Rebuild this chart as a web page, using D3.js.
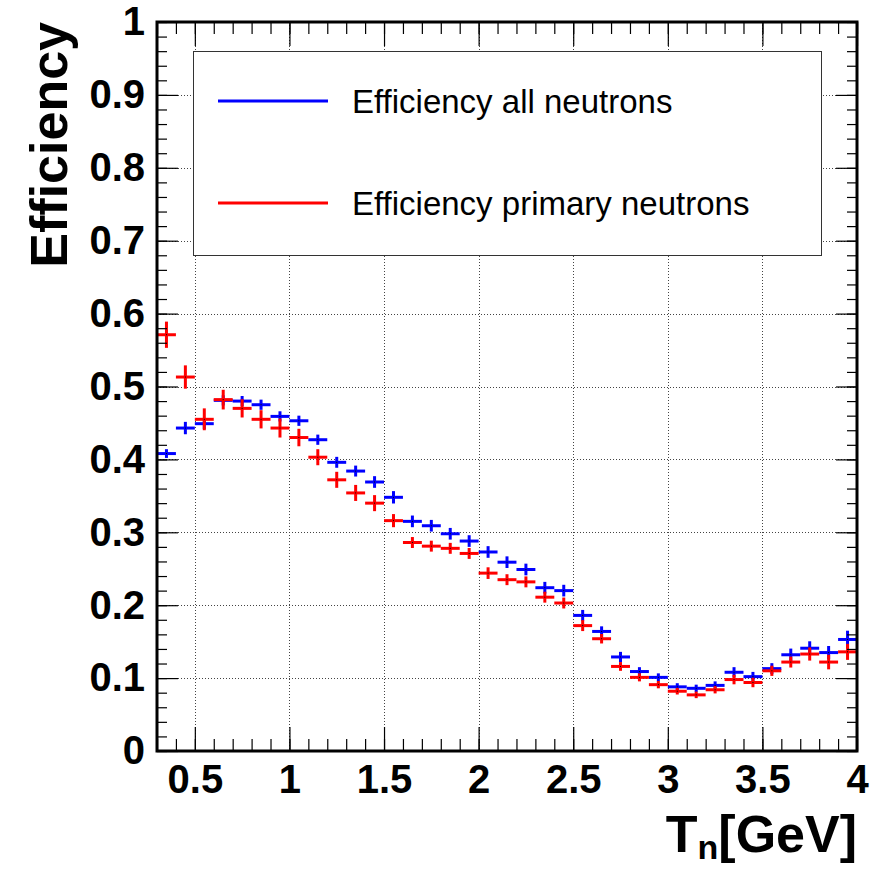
<!DOCTYPE html>
<html>
<head>
<meta charset="utf-8">
<script src="https://cdn.jsdelivr.net/npm/d3@7"></script>
<style>
  body { margin: 0; background: #fff; }
  svg { display: block; font-family: "Liberation Sans", Arial, Helvetica, sans-serif; }
</style>
</head>
<body>
<svg id="chart" width="877" height="869"></svg>
<script>
// bin centers, T_n in GeV (bins 0.1 wide from 0.3 to 4)
const binCenters = [0.35, 0.45, 0.55, 0.65, 0.75, 0.85, 0.95, 1.05, 1.15, 1.25, 1.35, 1.45,
  1.55, 1.65, 1.75, 1.85, 1.95, 2.05, 2.15, 2.25, 2.35, 2.45, 2.55, 2.65, 2.75, 2.85,
  2.95, 3.05, 3.15, 3.25, 3.35, 3.45, 3.55, 3.65, 3.75, 3.85, 3.95];
const binWidth = 0.1;

const effAll = [0.408, 0.443, 0.449, 0.481, 0.480, 0.475, 0.459, 0.453, 0.427, 0.396, 0.384, 0.369,
  0.348, 0.315, 0.309, 0.298, 0.288, 0.273, 0.259, 0.249, 0.224, 0.220, 0.186, 0.164, 0.129, 0.109,
  0.101, 0.088, 0.086, 0.090, 0.108, 0.102, 0.113, 0.132, 0.141, 0.135, 0.153];
const errAll = [0.006, 0.0085, 0.0075, 0.007, 0.007, 0.007, 0.007, 0.007, 0.007, 0.0075, 0.0075, 0.008,
  0.0085, 0.008, 0.008, 0.008, 0.008, 0.008, 0.008, 0.008, 0.008, 0.008, 0.0075, 0.007, 0.007, 0.006,
  0.0055, 0.005, 0.005, 0.0055, 0.007, 0.0065, 0.0075, 0.0085, 0.0095, 0.009, 0.012];

const effPrimary = [0.571, 0.513, 0.455, 0.482, 0.470, 0.455, 0.443, 0.430, 0.403, 0.372, 0.354, 0.340,
  0.316, 0.286, 0.281, 0.278, 0.271, 0.244, 0.235, 0.232, 0.211, 0.203, 0.172, 0.154, 0.116, 0.101,
  0.091, 0.082, 0.077, 0.084, 0.098, 0.094, 0.110, 0.122, 0.133, 0.122, 0.136];
const errPrimary = [0.018, 0.016, 0.015, 0.0135, 0.0125, 0.0125, 0.013, 0.012, 0.011, 0.011, 0.011, 0.011,
  0.009, 0.0075, 0.0075, 0.0075, 0.0075, 0.008, 0.0075, 0.0075, 0.0075, 0.0075, 0.0075, 0.0065, 0.006, 0.0055,
  0.005, 0.0045, 0.0045, 0.005, 0.0065, 0.0065, 0.007, 0.0075, 0.009, 0.01, 0.011];

const xTicks = [0.5, 1, 1.5, 2, 2.5, 3, 3.5, 4];
const xTickLabels = ["0.5", "1", "1.5", "2", "2.5", "3", "3.5", "4"];
const yTicks = [0, 0.1, 0.2, 0.3, 0.4, 0.5, 0.6, 0.7, 0.8, 0.9, 1];
const yTickLabels = ["0", "0.1", "0.2", "0.3", "0.4", "0.5", "0.6", "0.7", "0.8", "0.9", "1"];

const seriesNames = ["Efficiency all neutrons", "Efficiency primary neutrons"];
const seriesColors = ["#0000ff", "#ff0000"];

const frameLeft = 157, frameRight = 857, frameTop = 22, frameBottom = 751;

const x = d3.scaleLinear().domain([0.3, 4]).range([frameLeft, frameRight]);
const y = d3.scaleLinear().domain([0, 1]).range([frameBottom, frameTop]);

const svg = d3.select("#chart");

// dotted grid at major ticks
const grid = svg.append("g")
  .attr("stroke", "#444")
  .attr("stroke-width", 1)
  .attr("stroke-dasharray", "1,2");
grid.selectAll(".gx")
  .data(xTicks.filter(d => d < 4))
  .join("line")
    .attr("x1", d => Math.round(x(d)) + 0.5)
    .attr("x2", d => Math.round(x(d)) + 0.5)
    .attr("y1", frameTop)
    .attr("y2", frameBottom);
grid.selectAll(".gy")
  .data(yTicks.filter(d => d > 0 && d < 1))
  .join("line")
    .attr("x1", frameLeft)
    .attr("x2", frameRight)
    .attr("y1", d => Math.round(y(d)) + 0.5)
    .attr("y2", d => Math.round(y(d)) + 0.5);

// legend box
const legend = svg.append("g");
legend.append("rect")
  .attr("x", 193.5).attr("y", 51.5)
  .attr("width", 628).attr("height", 204)
  .attr("fill", "#fff")
  .attr("stroke", "#333")
  .attr("stroke-width", 1);
const legendRows = [101, 203];
seriesNames.forEach((name, i) => {
  legend.append("line")
    .attr("x1", 218).attr("x2", 328)
    .attr("y1", legendRows[i]).attr("y2", legendRows[i])
    .attr("stroke", seriesColors[i])
    .attr("stroke-width", 3);
  legend.append("text")
    .attr("x", 352)
    .attr("y", legendRows[i])
    .attr("dy", "0.36em")
    .attr("font-size", 33)
    .attr("fill", "#000")
    .text(name);
});

// histogram points with error bars
function drawSeries(values, errors, color) {
  const data = binCenters.map((c, i) => ({ c, v: values[i], e: errors[i] }));
  const g = svg.append("g").attr("stroke", color).attr("stroke-width", 3);
  g.selectAll(".h")
    .data(data)
    .join("line")
      .attr("x1", d => x(d.c - binWidth / 2))
      .attr("x2", d => x(d.c + binWidth / 2))
      .attr("y1", d => y(d.v))
      .attr("y2", d => y(d.v));
  g.selectAll(".v")
    .data(data)
    .join("line")
      .attr("x1", d => x(d.c))
      .attr("x2", d => x(d.c))
      .attr("y1", d => y(d.v + d.e))
      .attr("y2", d => y(d.v - d.e));
  svg.append("g").selectAll("rect")
    .data(data)
    .join("rect")
      .attr("x", d => x(d.c) - 0.5)
      .attr("y", d => y(d.v) - 0.5)
      .attr("width", 1)
      .attr("height", 1)
      .attr("fill", "#000");
}
drawSeries(effAll, errAll, seriesColors[0]);
drawSeries(effPrimary, errPrimary, seriesColors[1]);

// axes, ticks point inside the frame
const xMinor = d3.range(3, 41).map(d => d / 10);
const yMinor = d3.range(0, 51).map(d => d / 50);

svg.append("g")
  .attr("transform", `translate(0,${frameBottom})`)
  .call(d3.axisBottom(x).tickValues(xMinor).tickSizeInner(-12).tickSizeOuter(0).tickFormat(() => ""))
  .call(g => g.select(".domain").remove());
svg.append("g")
  .attr("transform", `translate(0,${frameTop})`)
  .call(d3.axisTop(x).tickValues(xMinor).tickSizeInner(-12).tickSizeOuter(0).tickFormat(() => ""))
  .call(g => g.select(".domain").remove());
svg.append("g")
  .attr("transform", `translate(0,${frameTop})`)
  .call(d3.axisTop(x).tickValues(xTicks).tickSizeInner(-24).tickSizeOuter(0).tickFormat(() => ""))
  .call(g => g.select(".domain").remove());

svg.append("g")
  .attr("transform", `translate(0,${frameBottom})`)
  .call(d3.axisBottom(x).tickValues(xTicks).tickSizeInner(-24).tickSizeOuter(0).tickPadding(14)
    .tickFormat((d, i) => xTickLabels[i]))
  .call(g => g.select(".domain").remove())
  .call(g => g.selectAll("text")
    .attr("font-size", 40)
    .attr("font-weight", "bold")
    .attr("font-family", "'Liberation Sans', Arial, sans-serif")
    .attr("fill", "#000"));

svg.append("g")
  .attr("transform", `translate(${frameLeft},0)`)
  .call(d3.axisLeft(y).tickValues(yMinor).tickSizeInner(-10).tickSizeOuter(0).tickFormat(() => ""))
  .call(g => g.select(".domain").remove());
svg.append("g")
  .attr("transform", `translate(${frameRight},0)`)
  .call(d3.axisRight(y).tickValues(yMinor).tickSizeInner(-10).tickSizeOuter(0).tickFormat(() => ""))
  .call(g => g.select(".domain").remove());
svg.append("g")
  .attr("transform", `translate(${frameRight},0)`)
  .call(d3.axisRight(y).tickValues(yTicks).tickSizeInner(-21).tickSizeOuter(0).tickFormat(() => ""))
  .call(g => g.select(".domain").remove());

svg.append("g")
  .attr("transform", `translate(${frameLeft},0)`)
  .call(d3.axisLeft(y).tickValues(yTicks).tickSizeInner(-21).tickSizeOuter(0).tickPadding(12)
    .tickFormat((d, i) => yTickLabels[i]))
  .call(g => g.select(".domain").remove())
  .call(g => g.selectAll("text")
    .attr("font-size", 40)
    .attr("font-weight", "bold")
    .attr("font-family", "'Liberation Sans', Arial, sans-serif")
    .attr("fill", "#000"));

svg.selectAll(".tick line").attr("stroke", "#000").attr("stroke-width", 1.2);

// frame
svg.append("rect")
  .attr("x", frameLeft).attr("y", frameTop)
  .attr("width", frameRight - frameLeft).attr("height", frameBottom - frameTop)
  .attr("fill", "none")
  .attr("stroke", "#000")
  .attr("stroke-width", 3);

// axis titles
svg.append("text")
  .attr("transform", `translate(67,${frameTop}) rotate(-90)`)
  .attr("text-anchor", "end")
  .attr("font-size", 52)
  .attr("font-weight", "bold")
  .text("Efficiency");

const xTitle = svg.append("text")
  .attr("x", frameRight)
  .attr("y", 852)
  .attr("text-anchor", "end")
  .attr("font-size", 52)
  .attr("font-weight", "bold");
xTitle.append("tspan").text("T");
xTitle.append("tspan").attr("font-size", 34).attr("dy", 7).text("n");
xTitle.append("tspan").attr("dy", -7).text("[GeV]");
</script>
</body>
</html>
